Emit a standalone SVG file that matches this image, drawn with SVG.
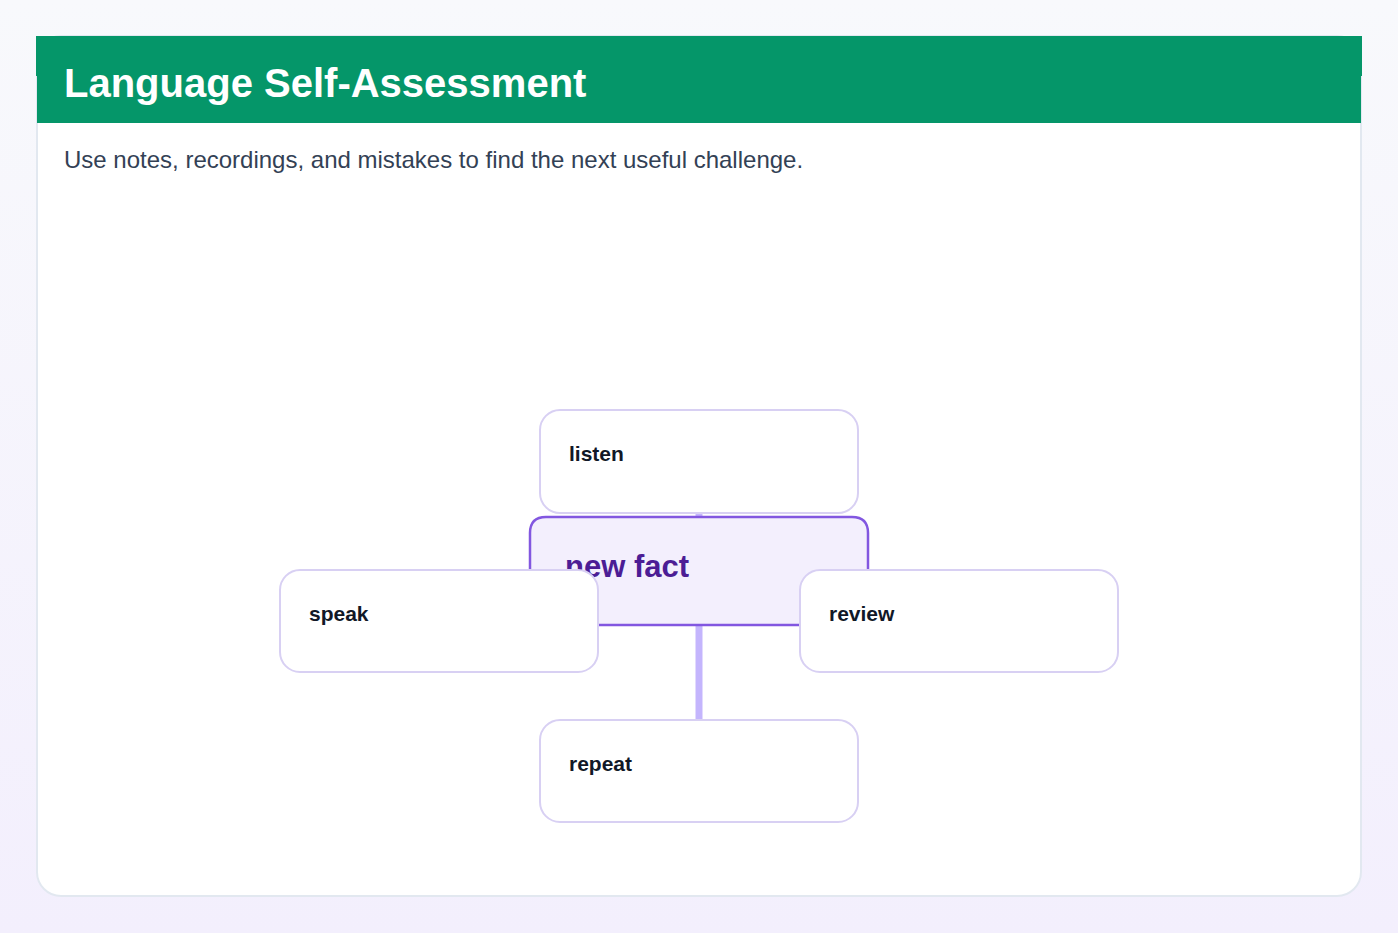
<svg xmlns="http://www.w3.org/2000/svg" width="1398" height="933" viewBox="0 0 1398 933">
<defs>
<linearGradient id="bg" x1="0" y1="0" x2="0" y2="1"><stop offset="0" stop-color="#f8f9fc"/><stop offset="1" stop-color="#f3effd"/></linearGradient>
<clipPath id="cardclip"><rect x="37" y="36" width="1324" height="860" rx="24"/></clipPath>
</defs>
<style>
.node rect{fill:#ffffff;stroke:#d8d0f3;stroke-width:2}
.node text{font-family:"Liberation Sans",Arial,sans-serif;font-weight:bold;font-size:21px;fill:#111827}
.conn line{stroke:#c4b5fd;stroke-width:7}
</style>
<rect width="1398" height="933" fill="url(#bg)"/>
<rect x="37" y="36" width="1324" height="860" rx="24" fill="#ffffff" stroke="#e2e8f0" stroke-width="2"/>
<g clip-path="url(#cardclip)"><rect x="36" y="36" width="1326" height="87" fill="#059669"/></g>
<rect x="36" y="36" width="1326" height="40" fill="#059669"/>
<text x="64" y="97" font-family="'Liberation Sans',Arial,sans-serif" font-weight="bold" font-size="40" fill="#ffffff">Language Self-Assessment</text>
<text x="64" y="168" font-family="'Liberation Sans',Arial,sans-serif" font-size="24" fill="#334155">Use notes, recordings, and mistakes to find the next useful challenge.</text>
<g id="connectors" class="conn">
<line x1="699" y1="513" x2="699" y2="520"/>
<line x1="699" y1="620" x2="699" y2="720"/>
<line x1="598" y1="621" x2="540" y2="621"/>
<line x1="800" y1="621" x2="860" y2="621"/>
</g>
<g id="node-center">
<path d="M530,625 V533 Q530,517 546,517 H852 Q868,517 868,533 V625 Z" fill="#f3effd" stroke="#8257e0" stroke-width="2.5"/>
<text x="565" y="577" font-family="'Liberation Sans',Arial,sans-serif" font-weight="bold" font-size="31" fill="#4c1d95">new fact</text>
</g>
<g id="node-listen" class="node"><rect x="540" y="410" width="318" height="103" rx="20"/><text x="569" y="461">listen</text></g>
<g id="node-speak" class="node"><rect x="280" y="570" width="318" height="102" rx="20"/><text x="309" y="621">speak</text></g>
<g id="node-review" class="node"><rect x="800" y="570" width="318" height="102" rx="20"/><text x="829" y="621">review</text></g>
<g id="node-repeat" class="node"><rect x="540" y="720" width="318" height="102" rx="20"/><text x="569" y="771">repeat</text></g>
</svg>
